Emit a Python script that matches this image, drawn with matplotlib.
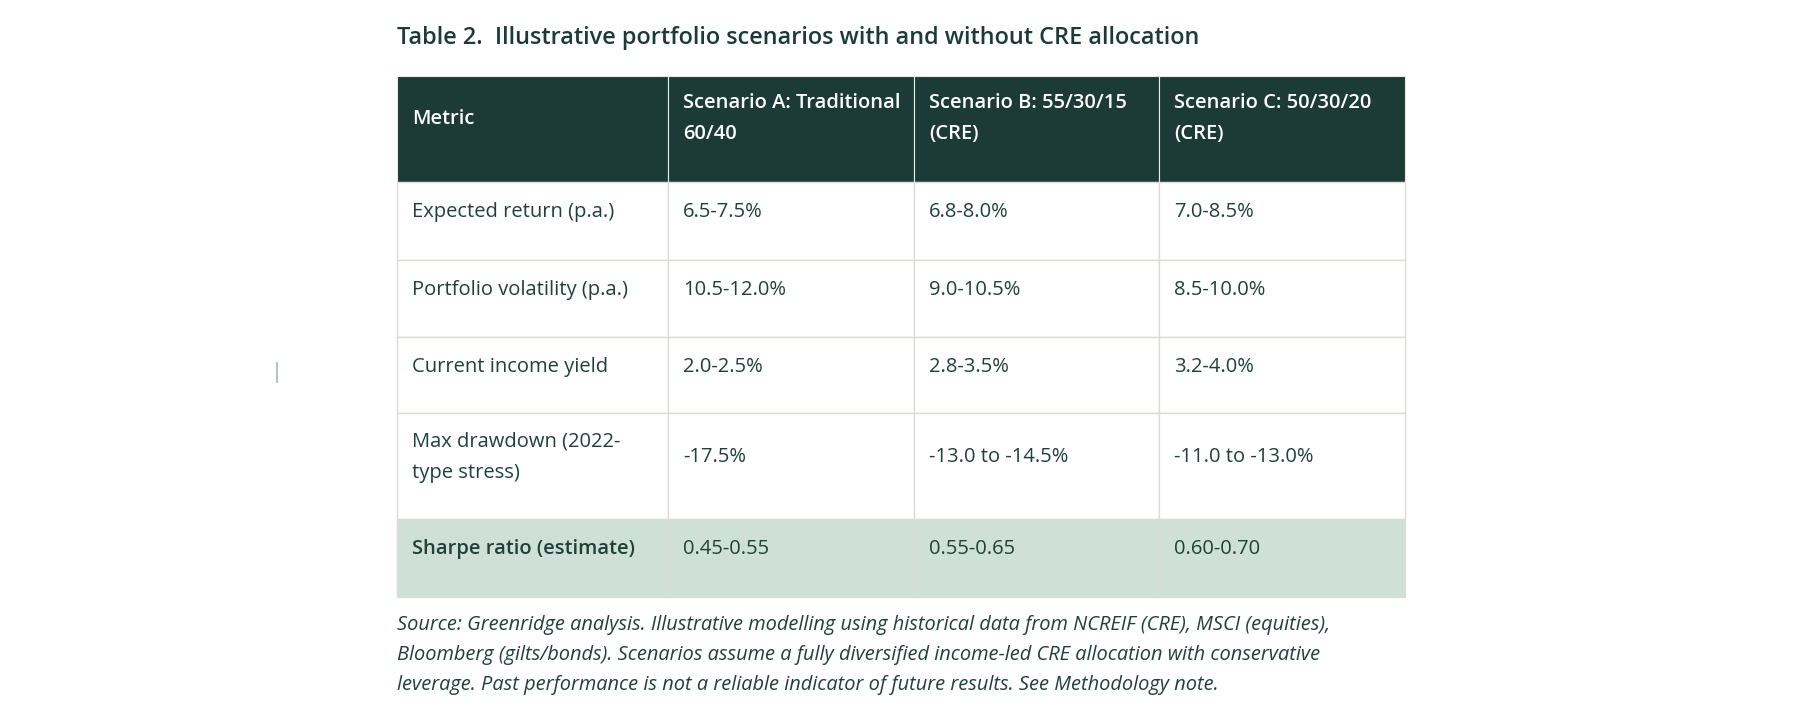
import matplotlib.pyplot as plt
from matplotlib.patches import Rectangle

TITLE = 'Table 2.  Illustrative portfolio scenarios with and without CRE allocation'
HEADERS = ['Metric', 'Scenario A: Traditional\n60/40', 'Scenario B: 55/30/15\n(CRE)',
           'Scenario C: 50/30/20\n(CRE)']
METRICS = ['Expected return (p.a.)', 'Portfolio volatility (p.a.)',
           'Current income yield', 'Max drawdown (2022-\ntype stress)',
           'Sharpe ratio (estimate)']
SCEN_A = ['6.5-7.5%', '10.5-12.0%', '2.0-2.5%', '-17.5%', '0.45-0.55']
SCEN_B = ['6.8-8.0%', '9.0-10.5%', '2.8-3.5%', '-13.0 to -14.5%', '0.55-0.65']
SCEN_C = ['7.0-8.5%', '8.5-10.0%', '3.2-4.0%', '-11.0 to -13.0%', '0.60-0.70']
NOTE = ('Source: Greenridge analysis. Illustrative modelling using historical data from NCREIF (CRE), MSCI (equities),\n'
        'Bloomberg (gilts/bonds). Scenarios assume a fully diversified income-led CRE allocation with conservative\n'
        'leverage. Past performance is not a reliable indicator of future results. See Methodology note.')

DARK = '#1d3b36'
TEXT = '#21403a'
HIGHLIGHT = '#cfe0d9'
GRID = '#dcdcd6'
FONT = 'Open Sans'

# layout in pixels
COL_X = [397, 668, 914, 1159, 1405]
ROW_Y = [76, 182, 260, 337, 413, 519, 597]
PAD_X = 15
PAD_TOP = 30
LINE_H = 29


def main():
    fig = plt.figure(figsize=(18, 7.22), dpi=100)
    ax = fig.add_axes([0, 0, 1, 1])
    ax.set_xlim(0, 1800)
    ax.set_ylim(722, 0)
    ax.axis('off')

    ax.text(COL_X[0], 38, TITLE, fontsize=16.9, fontfamily=FONT, fontweight='semibold',
            color=DARK, va='center', ha='left')

    rows = [HEADERS] + [list(r) for r in zip(METRICS, SCEN_A, SCEN_B, SCEN_C)]
    for i, row in enumerate(rows):
        y0, y1 = ROW_Y[i], ROW_Y[i + 1]
        header = i == 0
        last = i == len(rows) - 1
        fill = DARK if header else (HIGHLIGHT if last else 'white')
        nmax = max(c.count('\n') + 1 for c in row)
        for j, cell in enumerate(row):
            x0, x1 = COL_X[j], COL_X[j + 1]
            ax.add_patch(Rectangle((x0, y0), x1 - x0, y1 - y0, facecolor=fill,
                                   edgecolor='#e8ebe6' if header else GRID,
                                   lw=1.0 if not header else 0.8, zorder=1))
            yc = y0 + PAD_TOP + (nmax - 1) * LINE_H / 2
            if header:
                yc -= 2
            weight = 'semibold' if header or (last and j == 0) else 'normal'
            ax.text(x0 + PAD_X, yc, cell, fontsize=14.5, fontfamily=FONT,
                    fontweight=weight, color='white' if header else TEXT,
                    va='center', ha='left', linespacing=1.75, zorder=3)

    ax.text(COL_X[0], 655, NOTE, fontsize=14.45, fontfamily=FONT, style='italic',
            color=TEXT, va='center', ha='left', linespacing=1.68)

    # stray caret mark at left
    ax.plot([277, 277], [363, 382], color='#a9b8b3', lw=1.2)

    fig.savefig('out.png', dpi=100)
    plt.close()


if __name__ == '__main__':
    main()
